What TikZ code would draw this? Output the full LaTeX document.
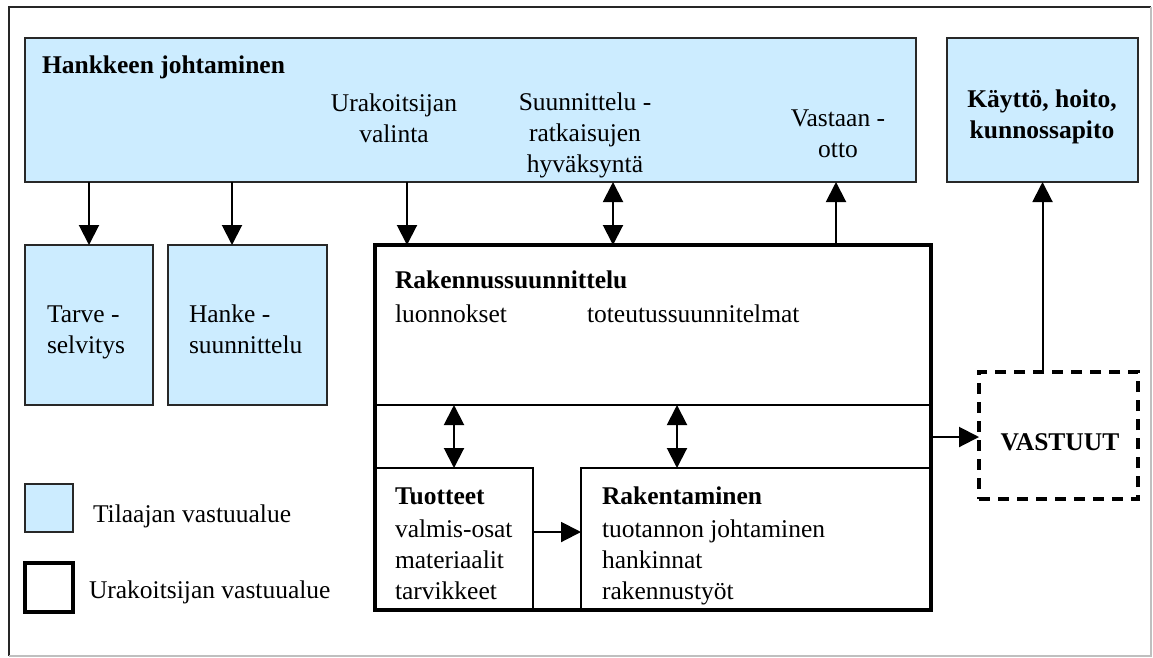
\documentclass[tikz,border=0pt]{standalone}
\usepackage{fontspec}
\setmainfont{Liberation Serif}
\usetikzlibrary{arrows.meta}
\definecolor{clientblue}{RGB}{204,236,255}
\definecolor{edge}{RGB}{40,40,40}
\begin{document}
\begin{tikzpicture}[x=1pt,y=-1pt,
  txt/.style={font=\fontsize{25.5}{31}\selectfont, inner sep=0pt, outer sep=0pt, text=black},
  btxt/.style={font=\fontsize{25.5}{31}\selectfont\bfseries, inner sep=0pt, outer sep=0pt, text=black},
  client/.style={draw=edge, line width=2pt, fill=clientblue, inner sep=0pt, outer sep=0pt, anchor=north west},
  contr/.style={draw=black, inner sep=0pt, outer sep=0pt, anchor=north west},
  arr/.style={draw=black, line width=2pt, -{Triangle[length=20pt,width=20pt]}},
  darr/.style={draw=black, line width=2pt, {Triangle[length=20pt,width=20pt]}-{Triangle[length=20pt,width=20pt]}},
  plainline/.style={draw=black, line width=2pt}
]
\useasboundingbox (0,0) rectangle (1153,657);
% outer frame
\coordinate (fBL) at (9,656);
\coordinate (fTL) at (9,7);
\coordinate (fTR) at (1151,7);
\coordinate (fBR) at (1151,656);
\draw[line width=1.5pt, black!85] (fBL) -- (fTL) -- (fTR);
\draw[line width=1.2pt, black!25] (fTR) -- (fBR) -- (fBL);

% client boxes
\node[client, minimum width=891pt, minimum height=144pt] (hj) at (25,38) {};
\node[client, minimum width=191pt, minimum height=144pt] (kayt) at (947,38) {};
\node[client, minimum width=128pt, minimum height=160pt] (tarve) at (25,245) {};
\node[client, minimum width=159pt, minimum height=160pt] (hanke) at (168,245) {};

% contractor boxes
\node[contr, line width=2pt, minimum width=158pt, minimum height=142pt] (tuot) at (375,468) {};
\node[contr, line width=2pt, minimum width=350pt, minimum height=142pt] (rak) at (581,468) {};
\node[contr, line width=4pt, minimum width=556pt, minimum height=365pt] (rs) at (375,245) {};
\node[contr, line width=4pt, dash pattern=on 11pt off 8pt, minimum width=159pt, minimum height=127pt] (vast) at (979,372) {};

% divider inside Rakennussuunnittelu
\coordinate (divL) at (375,405);
\coordinate (divR) at (931,405);
\draw[plainline] (divL) -- (divR);

% legend
\node[client, minimum width=48pt, minimum height=48pt] (legc) at (25,484) {};
\node[contr, line width=4pt, minimum width=48pt, minimum height=49pt] (legu) at (25,563) {};
\node[txt, anchor=base west] (legct) at (93,522) {Tilaajan vastuualue};
\node[txt, anchor=base west] (legut) at (89,598) {Urakoitsijan vastuualue};

% texts (multi-line nodes: base anchor = last line baseline)
\node[btxt, anchor=base west] (hjt) at (42,73) {Hankkeen johtaminen};
\node[txt, anchor=base, align=center] (urak) at (394,142) {Urakoitsijan\\valinta};
\node[txt, anchor=base, align=center] (suun) at (585,172) {Suunnittelu -\\ratkaisujen\\hyväksyntä};
\node[txt, anchor=base, align=center] (vast2) at (838,157) {Vastaan -\\otto};
\node[btxt, anchor=base, align=center] (kaytt) at (1042,138) {Käyttö, hoito,\\kunnossapito};
\node[txt, anchor=base west, align=left] (tarvet) at (47,353) {Tarve -\\selvitys};
\node[txt, anchor=base west, align=left] (hanket) at (189,353) {Hanke -\\suunnittelu};
\node[btxt, anchor=base west] (rst) at (395,288) {Rakennussuunnittelu};
\node[txt, anchor=base west] (luon) at (395,322) {luonnokset};
\node[txt, anchor=base west] (tot) at (587,322) {toteutussuunnitelmat};
\node[txt, anchor=base west, align=left] (tuott) at (395,599) {\textbf{Tuotteet}\\[1.5pt]valmis-osat\\materiaalit\\tarvikkeet};
\node[txt, anchor=base west, align=left] (rakt) at (602,599) {\textbf{Rakentaminen}\\[1.5pt]tuotannon johtaminen\\hankinnat\\rakennustyöt};
\node[btxt, anchor=base] (vastt) at (1060,450) {VASTUUT};

% connectors
\draw[arr] (hj.south -| tarve.north) -- (tarve.north);
\draw[arr] (hj.south -| 232,0) -- (hanke.north -| 232,0);
\draw[arr] (hj.south -| 407,0) -- (rs.north -| 407,0);
\draw[darr] (hj.south -| 613,0) -- (rs.north -| 613,0);
\draw[arr] (rs.north -| 836,0) -- (hj.south -| 836,0);
\draw[arr] (vast.north -| kayt.south) -- (kayt.south);
\draw[arr] (rs.east |- 0,437) -- (vast.west |- 0,437);
\draw[darr] (divL -| 454,0) -- (tuot.north -| 454,0);
\draw[darr] (divL -| 677,0) -- (rak.north -| 677,0);
\draw[arr] (tuot.east |- 0,532) -- (rak.west |- 0,532);
\end{tikzpicture}
\end{document}
